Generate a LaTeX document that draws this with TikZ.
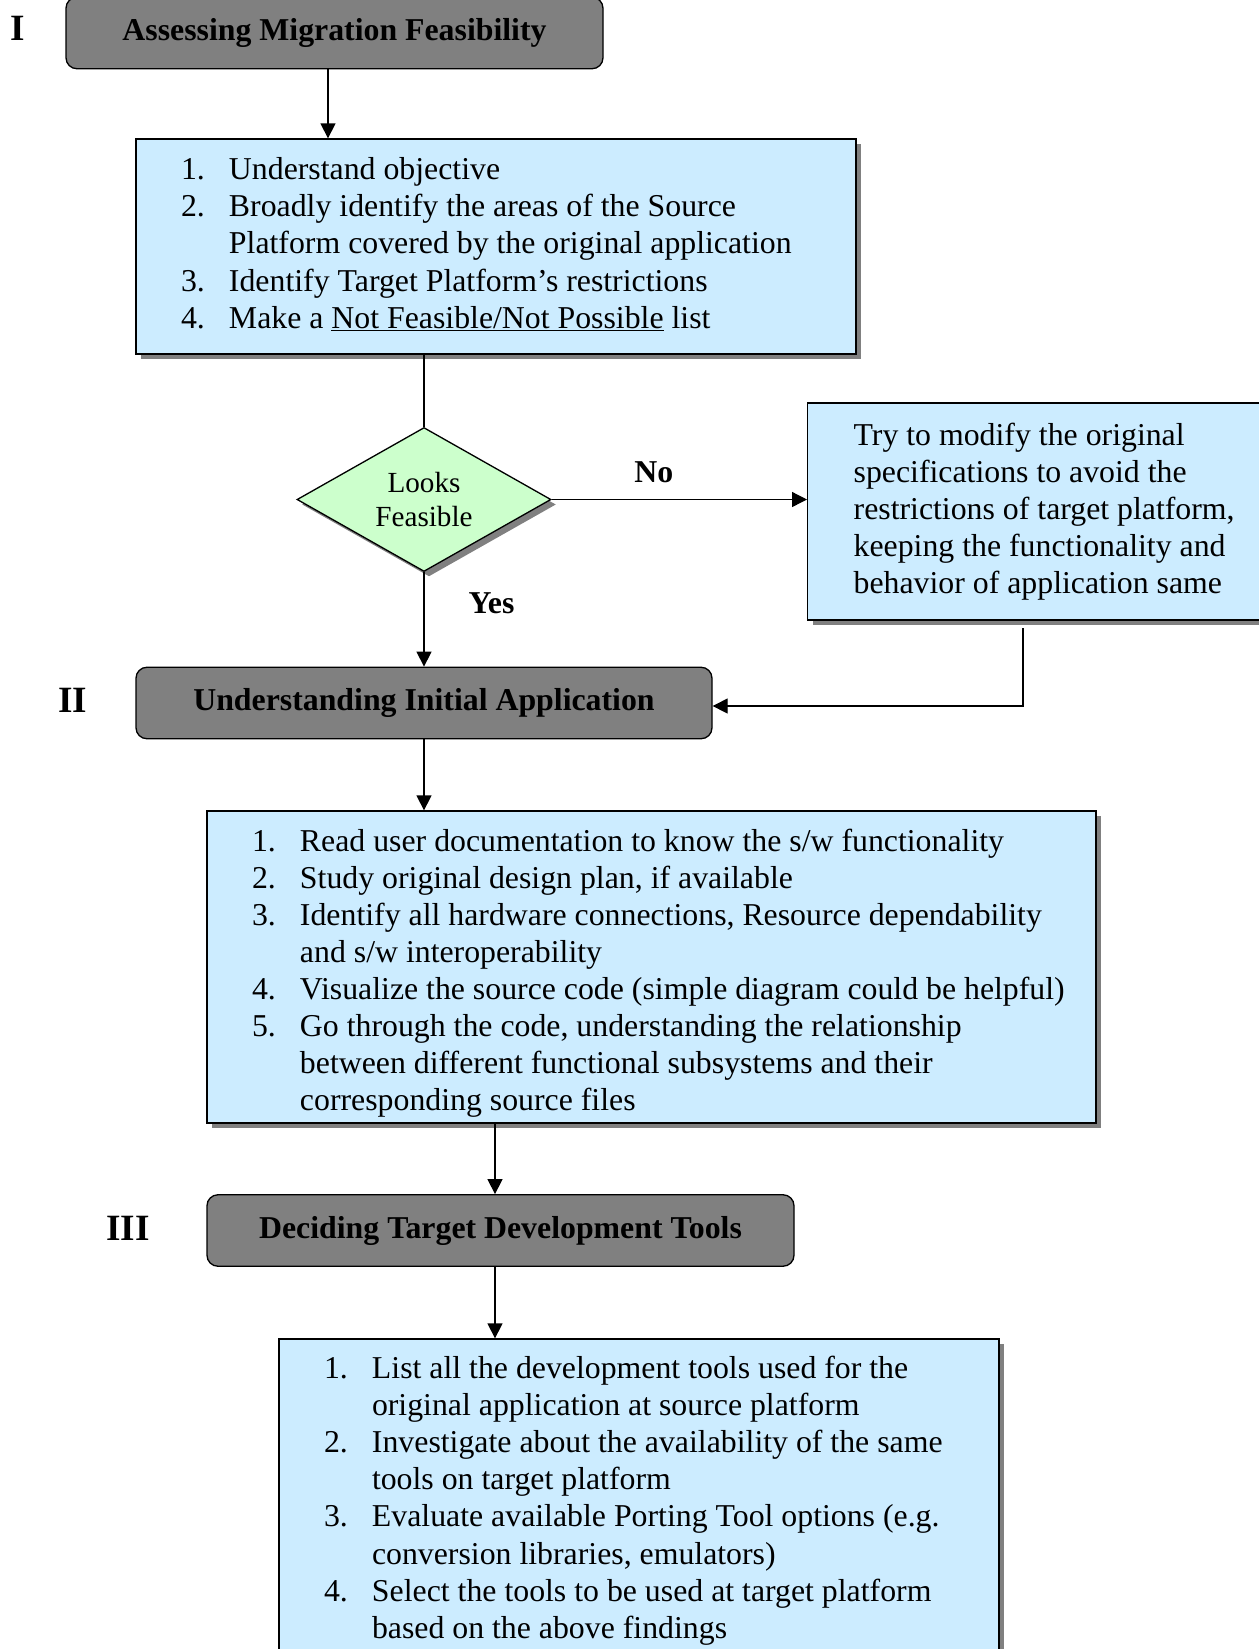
\documentclass[tikz,border=0pt]{standalone}
\usepackage{fontspec}
\setmainfont{Liberation Serif}
\usepackage{tikz}
\usetikzlibrary{shapes.geometric,shadows,arrows.meta}

\definecolor{stepblue}{RGB}{204,236,255}
\definecolor{decisiongreen}{RGB}{204,255,204}
\definecolor{phasegray}{RGB}{128,128,128}

\newcommand{\bodyfont}{\fontsize{18.1}{21.1}\selectfont}
\newcommand{\decisionfont}{\fontsize{16.6}{19.6}\selectfont}
\newcommand{\phasefont}{\fontsize{21.1}{25}\selectfont\bfseries}

\tikzset{
  >={Triangle[length=0.3cm,width=0.3cm]},
  phasebox/.style={shape=rectangle, rounded corners=0.22cm, draw=black, fill=phasegray, font=\bodyfont\bfseries, minimum height=1.43cm},
  stepbox/.style={shape=rectangle, draw=black, fill=stepblue, font=\bodyfont, inner sep=0pt, drop shadow={shadow xshift=0.1cm, shadow yshift=-0.1cm, fill=phasegray, opacity=1}},
  decisionbox/.style={shape=diamond, draw=black, fill=decisiongreen, font=\decisionfont, align=center, aspect=1.76, inner sep=0pt, minimum width=5.08cm, minimum height=2.88cm, drop shadow={shadow xshift=0.1cm, shadow yshift=-0.1cm, fill=phasegray, opacity=1}},
  numeral/.style={font=\phasefont},
  answer/.style={font=\bodyfont\bfseries}
}

\begin{document}
\begin{tikzpicture}[line width=0.75pt]
			\useasboundingbox (0,0) rectangle (25.18,-32.98);
			
			% phase I
			\node[numeral] (one) at (0.36,-0.56) {I};
			\node[phasebox, minimum width=10.74cm] (assess) at (6.69,-0.66) {Assessing Migration Feasibility};
			\node[stepbox, minimum height=4.3cm] (objective) at (9.92,-4.93) {\begin{tabular}{@{\hspace{0.9cm}}p{0.96cm}@{}p{11.5cm}@{\hspace{1.04cm}}}
				1. & Understand objective\\
				2. & Broadly identify the areas of the Source\newline Platform covered by the original application\\
				3. & Identify Target Platform's restrictions\\
				4. & Make a \underline{Not Feasible/Not Possible} list
			\end{tabular}};
			\node[decisionbox] (feasible) at (8.48,-9.99) {Looks\\Feasible};
			\node[stepbox, anchor=west, align=left, inner xsep=0.92cm, minimum height=4.34cm] (modify) at (16.14,-10.23) {Try to modify the original\\specifications to avoid the\\restrictions of target platform,\\keeping the functionality and\\behavior of application same};
			\coordinate (back) at (20.46,-12.56);
			
			% phase II
			\node[numeral] (two) at (1.46,-14.0) {II};
			\node[phasebox, minimum width=11.52cm] (understand) at (8.48,-14.06) {Understanding Initial Application};
			\node[stepbox, minimum height=6.24cm] (study) at (13.03,-19.34) {\raisebox{-0.13cm}[\height][\depth]{\begin{tabular}{@{\hspace{0.9cm}}p{0.96cm}@{}p{15.6cm}@{\hspace{0.32cm}}}
				1. & Read user documentation to know the s/w functionality\\
				2. & Study original design plan, if available\\
				3. & Identify all hardware connections, Resource dependability\newline and s/w interoperability\\
				4. & Visualize the source code (simple diagram could be helpful)\\
				5. & Go through the code, understanding the relationship\newline between different functional subsystems and their\newline corresponding source files
			\end{tabular}}};
			
			% phase III
			\node[numeral] (three) at (2.56,-24.56) {III};
			\node[phasebox, minimum width=11.74cm] (deciding) at (10.01,-24.61) {Deciding Target Development Tools};
			\node[stepbox, minimum height=6.48cm] (tools) at (12.78,-30.02) {\begin{tabular}{@{\hspace{0.9cm}}p{0.96cm}@{}p{11.9cm}@{\hspace{0.64cm}}}
				1. & List all the development tools used for the\newline original application at source platform\\
				2. & Investigate about the availability of the same\newline tools on target platform\\
				3. & Evaluate available Porting Tool options (e.g.\newline conversion libraries, emulators)\\
				4. & Select the tools to be used at target platform\newline based on the above findings
			\end{tabular}};
			
			\path [->] ([xshift=-0.13cm]assess.south) edge ([xshift=-0.13cm]assess.south |- objective.north);
			\path (feasible.north |- objective.south) edge (feasible.north);
			\path [->] (feasible.east) edge node[answer, above=0.2cm, pos=0.4] {No} (feasible.east -| modify.west);
			\path [->] (feasible.south) edge node[answer, right=0.76cm, pos=0.33] {Yes} (feasible.south |- understand.north);
			\draw [->] (back) |- ([yshift=-0.06cm]understand.east);
			\path [->] (understand.south) edge (understand.south |- study.north);
			\path [->] ([xshift=-0.11cm]deciding.north |- study.south) edge ([xshift=-0.11cm]deciding.north);
			\path [->] ([xshift=-0.11cm]deciding.south) edge ([xshift=-0.11cm]deciding.south |- tools.north);
\end{tikzpicture}
\end{document}
